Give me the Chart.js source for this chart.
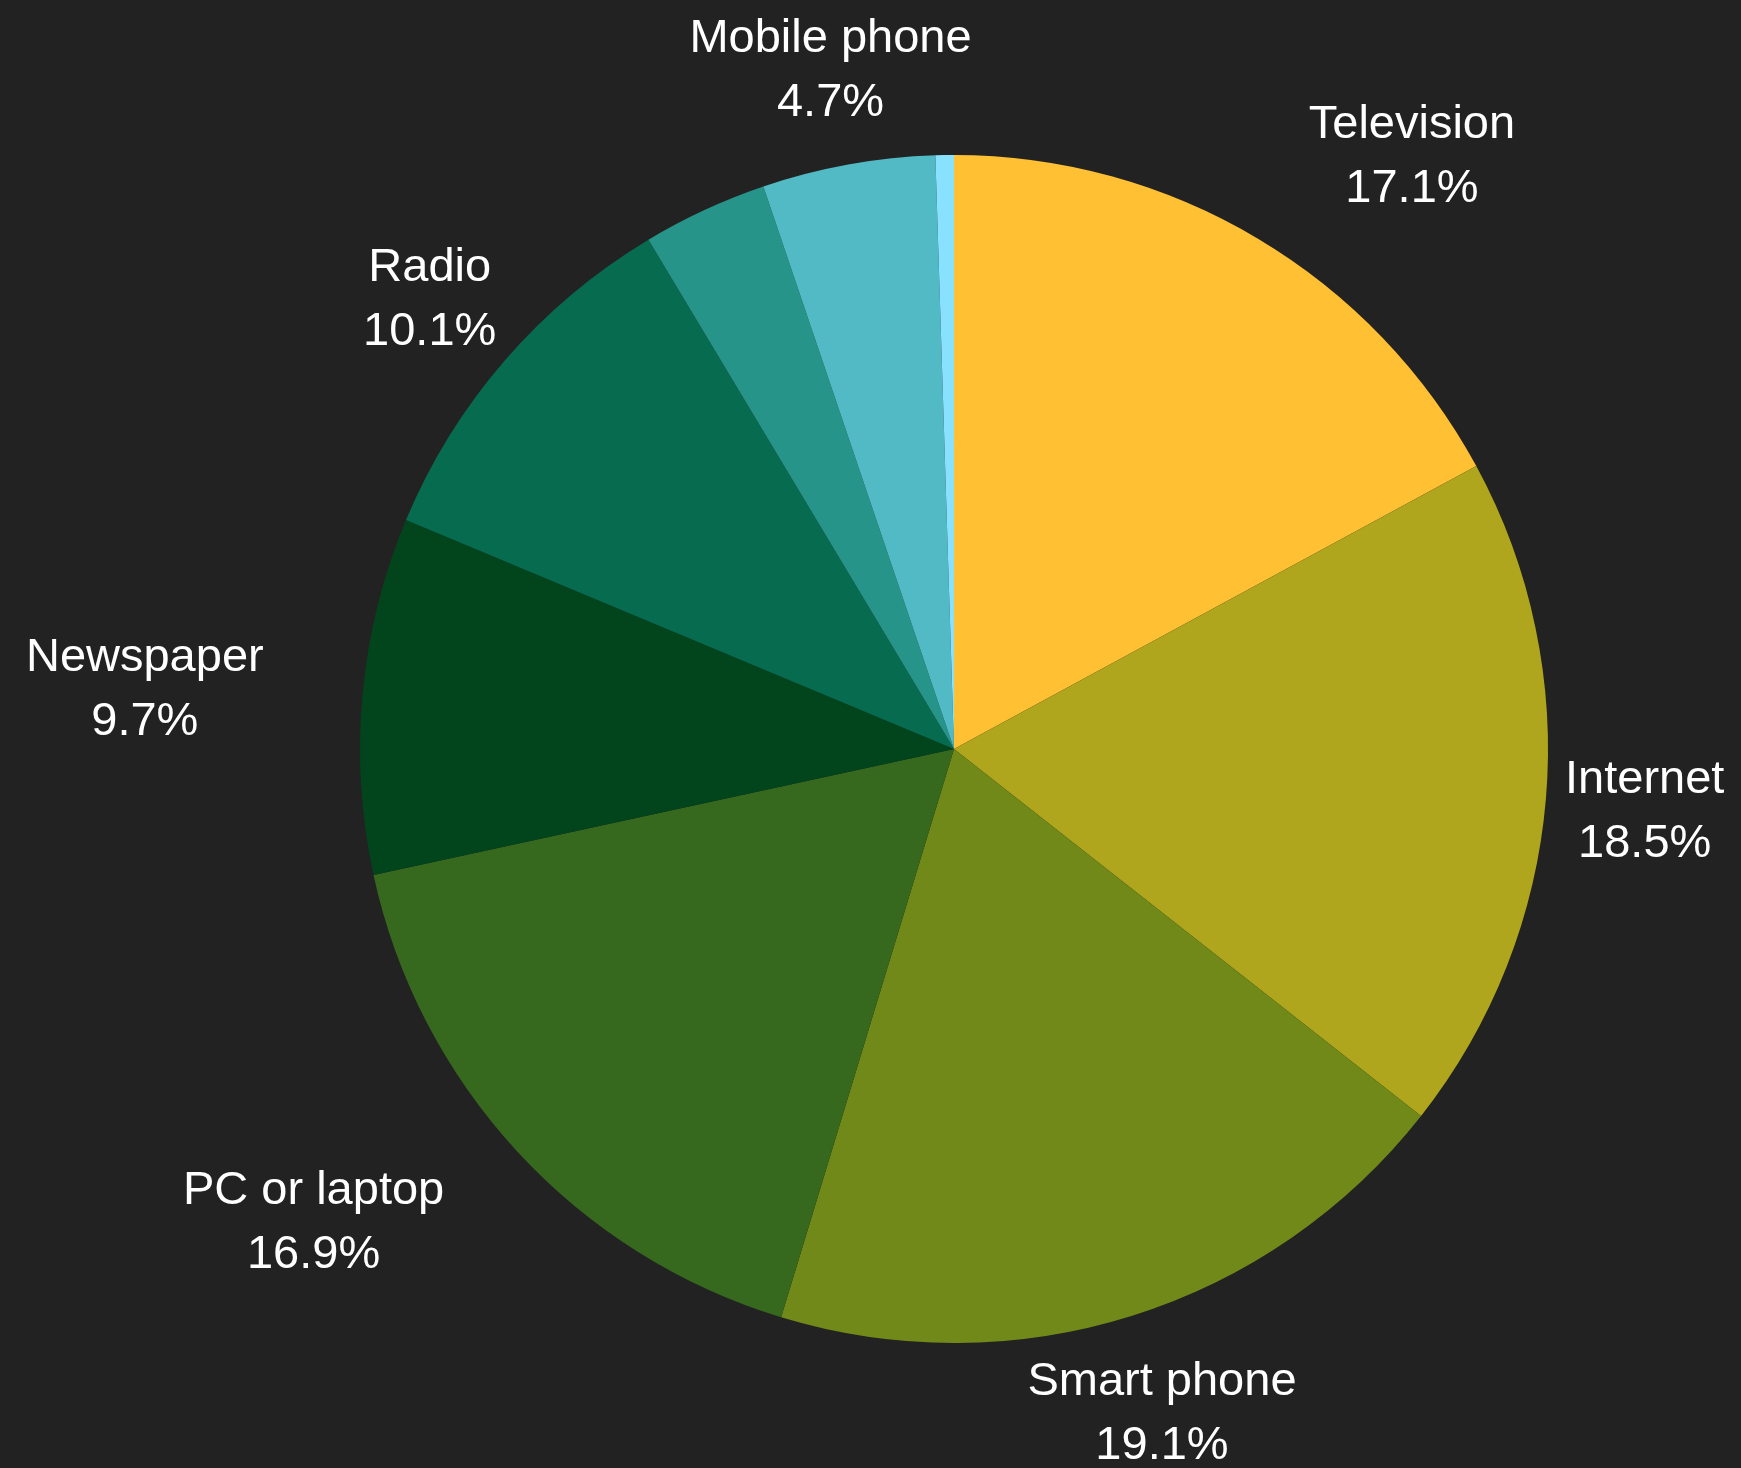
<!DOCTYPE html>
<html>
<head>
<meta charset="utf-8">
<title>Media usage</title>
<script src="https://cdn.jsdelivr.net/npm/chart.js@4.4.0/dist/chart.umd.min.js"></script>
<style>
  html, body { margin: 0; padding: 0; background: #222222; }
  canvas { display: block; }
</style>
</head>
<body>
<canvas id="pieChart" width="1741" height="1468"></canvas>
<script>
// slices run clockwise from 12 o'clock; the two small unnamed ones get no label
const categories = ["Television", "Internet", "Smart phone", "PC or laptop", "Newspaper", "Radio", "", "Mobile phone", ""];
const shares = [17.1, 18.5, 19.1, 16.9, 9.7, 10.1, 3.4, 4.7, 0.5];
const sliceColors = ["#ffc034", "#b0a61d", "#718919", "#36681d", "#02451c", "#066b4f", "#269489", "#51bac4", "#88e1ff"];

// "name" over "xx.x%" outside each slice, shoved sideways if the box would touch the pie
const outsideLabels = {
    id: "outsideLabels",
    afterDatasetsDraw(chart) {
        const ctx = chart.ctx;
        const meta = chart.getDatasetMeta(0);
        const total = shares.reduce((a, b) => a + b, 0);
        ctx.save();
        ctx.font = "47px 'Liberation Sans', Arial, sans-serif";
        ctx.fillStyle = "#ffffff";
        ctx.textAlign = "center";
        ctx.textBaseline = "alphabetic";
        meta.data.forEach((arc, i) => {
            if (!categories[i]) return;
            const p = arc.getProps(["x", "y", "startAngle", "endAngle", "outerRadius"], true);
            const mid = (p.startAngle + p.endAngle) / 2;
            const dx = Math.cos(mid), dy = Math.sin(mid);
            const pct = (shares[i] / total * 100).toFixed(1) + "%";
            const w = Math.max(ctx.measureText(categories[i]).width, ctx.measureText(pct).width);
            const halfH = 48;
            let lx = p.x + dx * p.outerRadius * 1.167;
            const ly = p.y + dy * p.outerRadius * 1.167;

            // nearest point of the text box to the pie centre
            const nx = Math.max(Math.abs(lx - p.x) - w / 2, 0);
            const ny = Math.max(Math.abs(ly - p.y) - halfH, 0);
            if (Math.hypot(nx, ny) < p.outerRadius * 1.02) lx += Math.sign(dx) * w / 2;

            ctx.fillText(categories[i], lx, ly - 15);
            ctx.fillText(pct, lx, ly + 49);
        });
        ctx.restore();
    }
};

new Chart(document.getElementById("pieChart").getContext("2d"), {
    type: "pie",
    data: {
        labels: categories,
        datasets: [{
            data: shares,
            backgroundColor: sliceColors,
            borderWidth: 0
        }]
    },
    options: {
        responsive: false,
        animation: false,
        layout: { padding: { top: 155, bottom: 125, left: 360, right: 193 } },
        plugins: {
            legend: { display: false },
            tooltip: { enabled: false }
        }
    },
    plugins: [outsideLabels]
});
</script>
</body>
</html>
